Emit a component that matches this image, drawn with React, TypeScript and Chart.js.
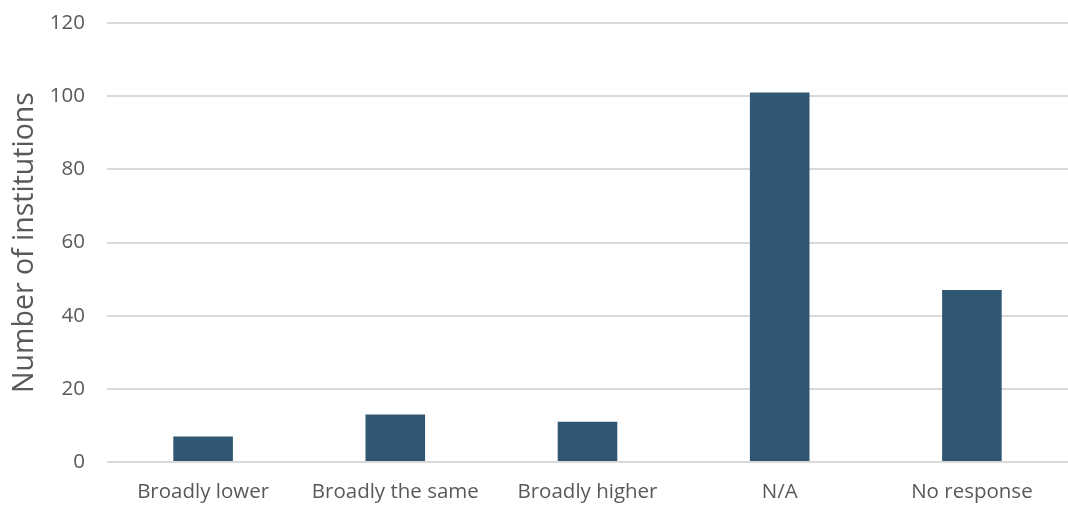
import React, { useEffect, useRef } from "react";
import { Chart, registerables } from "chart.js";

Chart.register(...registerables);

const categories = ["Broadly lower", "Broadly the same", "Broadly higher", "N/A", "No response"];
const values = [7, 13, 11, 101, 47];
const yTicks = [0, 20, 40, 60, 80, 100, 120];

export default function App() {
  const ref = useRef<HTMLCanvasElement | null>(null);
  useEffect(() => {
    document.body.style.margin = "0";
    const ctx = ref.current!;
    const chart = new Chart(ctx, {
      type: "bar",
      data: {
        labels: categories,
        datasets: [
          {
            data: values,
            backgroundColor: "#2F5672",
            borderWidth: 0,
            categoryPercentage: 1,
            barPercentage: 0.31,
          },
        ],
      },
      options: {
        animation: false,
        responsive: false,
        devicePixelRatio: 1,
        layout: { padding: { top: 23, right: 0, left: 8, bottom: 0 } },
        plugins: { legend: { display: false }, tooltip: { enabled: false } },
        scales: {
          x: {
            grid: { display: false, drawTicks: false },
            border: { display: false },
            ticks: {
              color: "#595959",
              font: { family: "Open Sans", size: 20.5 },
              padding: 18,
              maxRotation: 0,
              autoSkip: false,
            },
            afterFit: (s: any) => {
              s.height = 43;
              s.paddingLeft = 0;
              s.paddingRight = 0;
            },
          },
          y: {
            min: 0,
            max: 120,
            afterBuildTicks: (s: any) => {
              s.ticks = yTicks.map((v) => ({ value: v }));
            },
            grid: { color: "#D9D9D9", lineWidth: 2, drawTicks: false },
            border: { display: false },
            ticks: {
              color: "#595959",
              font: { family: "Open Sans", size: 20.5 },
              padding: 22,
            },
            title: {
              display: true,
              text: "Number of institutions",
              color: "#595959",
              font: { family: "Open Sans", size: 28.5 },
              padding: 0,
            },
            afterFit: (s: any) => {
              s.width = 99;
              s.paddingTop = 0;
              s.paddingBottom = 0;
            },
          },
        },
      },
    });
    return () => chart.destroy();
  }, []);
  return <canvas ref={ref} width={1068} height={505} style={{ display: "block" }} />;
}
